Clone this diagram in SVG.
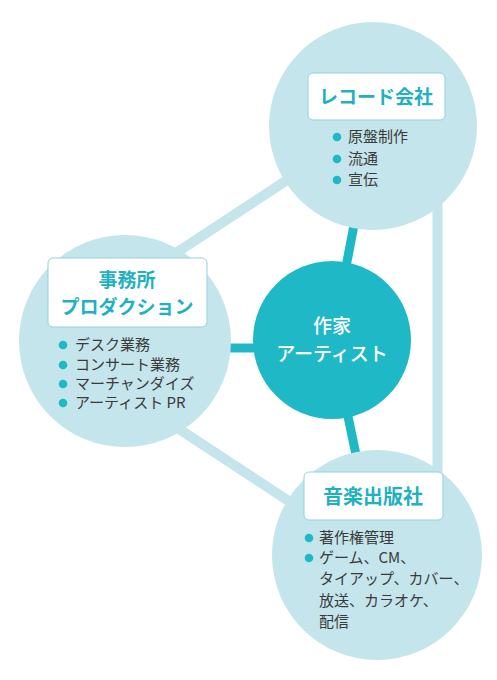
<svg xmlns="http://www.w3.org/2000/svg" width="497" height="680" viewBox="0 0 497 680">
<style>
.lite{stroke:#c4e5eb;stroke-width:10;fill:none}
.teal{stroke:#1fb8c7;stroke-width:9;fill:none}
.outer{fill:#c4e5eb}
.box{fill:#ffffff;stroke:#8fd3dc;stroke-width:1}
.lbl{font-family:"Noto Sans CJK JP","Noto Sans",sans-serif;font-weight:700;font-size:19px;fill:#1fb1c1;text-anchor:middle}
.item{font-family:"Noto Sans CJK JP","Noto Sans",sans-serif;font-size:15px;fill:#3a3a3a}
.dot{fill:#1fb8c7}
.ctr{font-family:"Noto Sans CJK JP","Noto Sans",sans-serif;font-weight:500;font-size:19px;fill:#ffffff;text-anchor:middle}
</style>
<rect width="497" height="680" fill="#ffffff"/>
<g id="connectors">
<line class="lite" x1="150" y1="270" x2="310" y2="165"/>
<line class="lite" x1="437.5" y1="200" x2="437.5" y2="480"/>
<line class="lite" x1="150" y1="410" x2="310" y2="515"/>
<line class="teal" x1="332" y1="340" x2="373" y2="126"/>
<line class="teal" x1="200" y1="348" x2="300" y2="348"/>
<line class="teal" x1="332" y1="340" x2="377" y2="555"/>
</g>
<g id="record">
<circle class="outer" cx="373" cy="126" r="104"/>
<rect class="box" x="308" y="73" width="137" height="47" rx="5"/>
<text class="lbl" x="376" y="104">レコード会社</text>
<circle class="dot" cx="337" cy="137" r="4.3"/>
<circle class="dot" cx="337" cy="159" r="4.3"/>
<circle class="dot" cx="337" cy="180" r="4.3"/>
<text class="item" x="348" y="142">原盤制作</text>
<text class="item" x="348" y="164">流通</text>
<text class="item" x="348" y="185">宣伝</text>
</g>
<g id="office">
<circle class="outer" cx="125" cy="341" r="106"/>
<rect class="box" x="48" y="258" width="159" height="69" rx="5"/>
<text class="lbl" x="127" y="287">事務所</text>
<text class="lbl" x="127" y="314">プロダクション</text>
<circle class="dot" cx="63" cy="345" r="4.3"/>
<circle class="dot" cx="63" cy="365" r="4.3"/>
<circle class="dot" cx="63" cy="384" r="4.3"/>
<circle class="dot" cx="63" cy="403" r="4.3"/>
<text class="item" x="75" y="350">デスク業務</text>
<text class="item" x="75" y="370">コンサート業務</text>
<text class="item" x="75" y="389">マーチャンダイズ</text>
<text class="item" x="75" y="408">アーティスト PR</text>
</g>
<g id="publisher">
<circle class="outer" cx="377" cy="555" r="105"/>
<rect class="box" x="304" y="472" width="139" height="48" rx="5"/>
<text class="lbl" x="373" y="504" style="font-size:20px">音楽出版社</text>
<circle class="dot" cx="309" cy="538" r="4.3"/>
<circle class="dot" cx="309" cy="558" r="4.3"/>
<text class="item" x="319" y="543">著作権管理</text>
<text class="item" x="319" y="563">ゲーム、CM、</text>
<text class="item" x="319" y="584">タイアップ、カバー、</text>
<text class="item" x="319" y="606">放送、カラオケ、</text>
<text class="item" x="319" y="627">配信</text>
</g>
<g id="artist">
<circle cx="332" cy="340" r="79" fill="#1fb8c7"/>
<text class="ctr" x="332" y="333">作家</text>
<text class="ctr" x="332" y="361">アーティスト</text>
</g>
</svg>
